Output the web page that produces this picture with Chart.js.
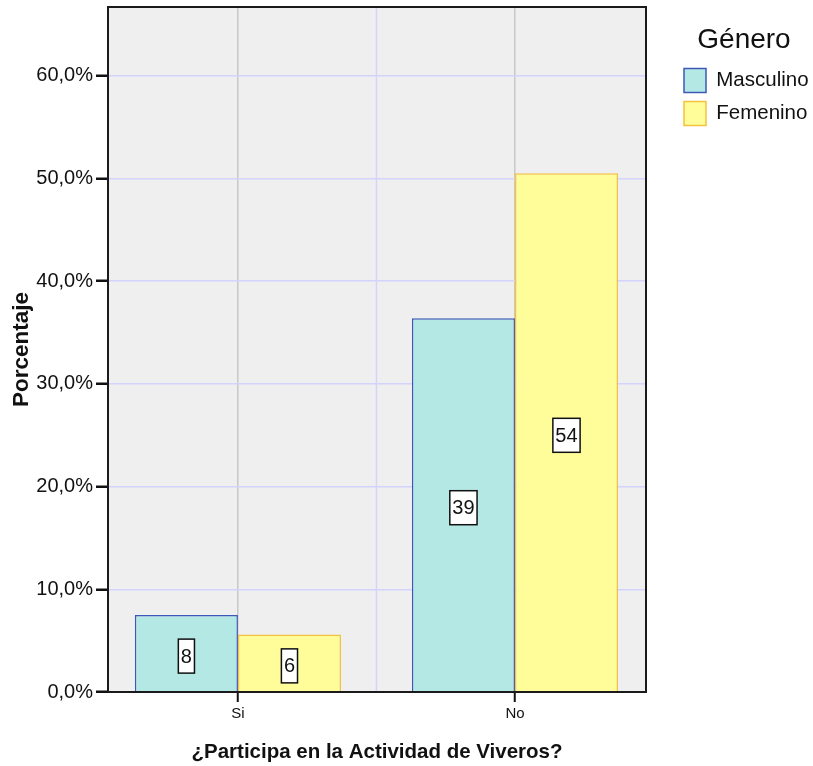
<!DOCTYPE html>
<html>
<head>
<meta charset="utf-8">
<script src="https://cdn.jsdelivr.net/npm/chart.js@4.4.1/dist/chart.umd.min.js"></script>
<style>
  body { margin: 0; background: #fff; }
  #wrap { width: 813px; height: 766px; position: relative; }
</style>
</head>
<body>
<div id="wrap"><canvas id="chart"></canvas></div>
<script>
// data
const categories = ['Si', 'No'];
const masculinoPct = [7.5, 36.4];
const femeninoPct = [5.6, 50.5];
const masculinoN = [8, 39];
const femeninoN = [6, 54];
const yTicks = [0, 10, 20, 30, 40, 50, 60];

const FONT = "'Liberation Sans', Arial, sans-serif";
const lavender = '#d3d3fb';

// grey plot background + black frame, plus the lavender line between the two groups
const plotFrame = {
    id: 'plotFrame',
    beforeDraw(chart) {
        const { ctx, chartArea: a } = chart;
        ctx.save();
        ctx.fillStyle = '#efefef';
        ctx.fillRect(a.left, a.top, a.right - a.left, a.bottom - a.top);
        ctx.restore();
    },
    beforeDatasetsDraw(chart) {
        const { ctx, chartArea: a, scales } = chart;
        const mid = scales.x.getPixelForValue(0.5);
        ctx.save();
        ctx.strokeStyle = lavender;
        ctx.lineWidth = 1.5;
        ctx.beginPath();
        ctx.moveTo(mid, a.top);
        ctx.lineTo(mid, a.bottom);
        ctx.stroke();
        ctx.restore();
    },
    afterDraw(chart) {
        const { ctx, chartArea: a } = chart;
        ctx.save();
        ctx.strokeStyle = '#1a1a1a';
        ctx.lineWidth = 2;
        ctx.strokeRect(a.left, a.top, a.right - a.left, a.bottom - a.top);
        ctx.restore();
    }
};

// boxed counts in the middle of each bar
const countLabels = {
    id: 'countLabels',
    afterDatasetsDraw(chart) {
        const ctx = chart.ctx;
        ctx.save();
        ctx.font = '20px ' + FONT;
        ctx.textAlign = 'center';
        ctx.textBaseline = 'middle';
        chart.data.datasets.forEach((ds, di) => {
            const meta = chart.getDatasetMeta(di);
            meta.data.forEach((bar, i) => {
                const { x, y, base } = bar.getProps(['x', 'y', 'base'], true);
                const txt = String(ds.counts[i]);
                const w = ctx.measureText(txt).width + 5;
                const h = 34;
                const cy = (y + base) / 2 + 3;
                ctx.fillStyle = '#fff';
                ctx.fillRect(x - w / 2, cy - h / 2, w, h);
                ctx.strokeStyle = '#111';
                ctx.lineWidth = 1.5;
                ctx.strokeRect(x - w / 2, cy - h / 2, w, h);
                ctx.fillStyle = '#111';
                ctx.fillText(txt, x, cy + 1);
            });
        });
        ctx.restore();
    }
};

new Chart(document.getElementById('chart'), {
    type: 'bar',
    data: {
        datasets: [
            {
                label: 'Masculino',
                data: masculinoPct.map((v, i) => ({ x: i, y: v })),
                counts: masculinoN,
                backgroundColor: '#b4e8e5',
                borderColor: '#3d58b8',
                borderWidth: 1.5
            },
            {
                label: 'Femenino',
                data: femeninoPct.map((v, i) => ({ x: i, y: v })),
                counts: femeninoN,
                backgroundColor: '#fffc9a',
                borderColor: '#f4c23e',
                borderWidth: 1.5
            }
        ]
    },
    options: {
        responsive: true,
        maintainAspectRatio: false,
        animation: false,
        layout: { padding: { top: 7, left: 0, right: 0, bottom: 0 } },
        datasets: { bar: { categoryPercentage: 0.744, barPercentage: 1 } },
        scales: {
            x: {
                type: 'linear',
                min: -0.469,
                max: 1.473,
                offset: false,
                afterBuildTicks: axis => { axis.ticks = categories.map((c, i) => ({ value: i })); },
                afterFit: s => { s.height = 74; s.paddingLeft = 0; s.paddingRight = 0; },
                grid: { offset: false, color: '#c8c8c8', lineWidth: 1.5, tickColor: '#111', tickLength: 10, tickWidth: 2 },
                border: { display: false },
                ticks: {
                    padding: 3,
                    color: '#111',
                    font: { family: FONT, size: 15 },
                    callback: v => categories[v] ?? ''
                },
                title: {
                    display: true,
                    text: '¿Participa en la Actividad de Viveros?',
                    color: '#111',
                    font: { family: FONT, size: 20.5, weight: 'bold' },
                    padding: { top: 0, bottom: 1 }
                }
            },
            y: {
                min: 0,
                max: 66.7,
                afterBuildTicks: axis => { axis.ticks = yTicks.map(v => ({ value: v })); },
                afterFit: s => { s.width = 108; s.paddingTop = 0; s.paddingBottom = 0; },
                grid: { color: lavender, lineWidth: 1.5, tickColor: '#111', tickLength: 12, tickWidth: 2.5 },
                border: { display: false },
                ticks: {
                    padding: 3,
                    color: '#111',
                    font: { family: FONT, size: 20 },
                    callback: v => v.toFixed(1).replace('.', ',') + '%'
                },
                title: {
                    display: true,
                    text: 'Porcentaje',
                    color: '#111',
                    font: { family: FONT, size: 22.5, weight: 'bold' },
                    padding: { top: 8, bottom: 0 }
                }
            },
            // empty right axis, only keeps a gap between the plot and the legend
            gap: {
                type: 'linear',
                position: 'right',
                display: true,
                grid: { display: false },
                border: { display: false },
                ticks: { display: false },
                afterFit: s => { s.width = 29; s.paddingTop = 0; s.paddingBottom = 0; }
            }
        },
        plugins: {
            tooltip: { enabled: false },
            legend: {
                position: 'right',
                align: 'start',
                maxWidth: 138,
                title: {
                    display: true,
                    text: 'Género',
                    color: '#111',
                    font: { family: FONT, size: 28 },
                    padding: { top: 19, bottom: 0 }
                },
                labels: {
                    boxWidth: 22,
                    boxHeight: 24,
                    padding: 9,
                    color: '#111',
                    font: { family: FONT, size: 20.5 }
                }
            }
        }
    },
    plugins: [plotFrame, countLabels]
});
</script>
</body>
</html>
